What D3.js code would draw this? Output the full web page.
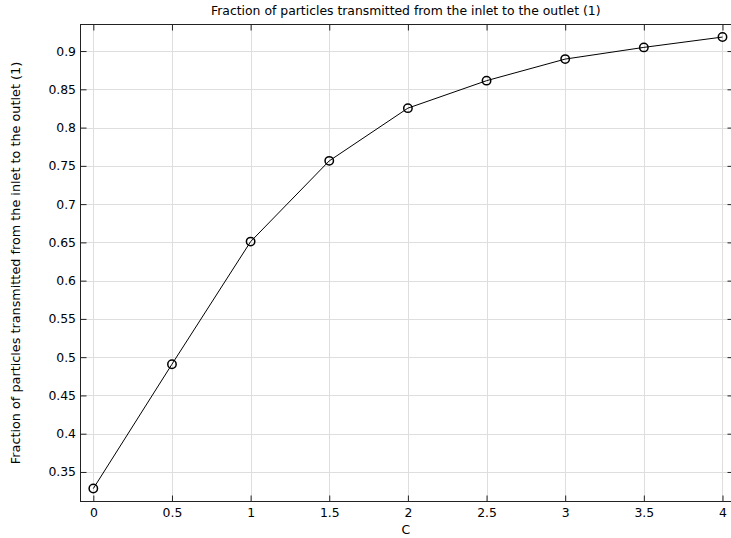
<!DOCTYPE html>
<html>
<head>
<meta charset="utf-8">
<script src="https://cdn.jsdelivr.net/npm/d3@7"></script>
<style>
  body { margin: 0; background: #fff; }
  svg text { font-family: "DejaVu Sans", sans-serif; font-size: 12.4px; fill: #000; }
  .grid line { stroke: #dedede; stroke-width: 1; }
  .frame { fill: none; stroke: #222; stroke-width: 1; }
</style>
</head>
<body>
<svg id="plot" width="731" height="538"></svg>
<script>
// data
const c_values = [0, 0.5, 1, 1.5, 2, 2.5, 3, 3.5, 4];
const fraction_values = [0.3283, 0.4908, 0.651, 0.7565, 0.8254, 0.8613, 0.8895, 0.9048, 0.9183];
const x_ticks = [0, 0.5, 1, 1.5, 2, 2.5, 3, 3.5, 4];
const y_ticks = [0.35, 0.4, 0.45, 0.5, 0.55, 0.6, 0.65, 0.7, 0.75, 0.8, 0.85, 0.9];
const title_text = "Fraction of particles transmitted from the inlet to the outlet (1)";
const x_label = "C";

const svg = d3.select("#plot");

// plot box
const box_left = 80.5, box_right = 733.5, box_top = 24.5, box_bottom = 501.5;

const x = d3.scaleLinear().domain([-0.0815, 4.07]).range([box_left, box_right]);
const y = d3.scaleLinear().domain([0.3114, 0.9347]).range([box_bottom, box_top]);

// grid
const grid = svg.append("g").attr("class", "grid");
grid.selectAll(".vx").data(x_ticks).enter().append("line")
    .attr("x1", d => Math.round(x(d)) + 0.5).attr("x2", d => Math.round(x(d)) + 0.5)
    .attr("y1", box_top).attr("y2", box_bottom);
grid.selectAll(".hy").data(y_ticks).enter().append("line")
    .attr("y1", d => Math.round(y(d)) + 0.5).attr("y2", d => Math.round(y(d)) + 0.5)
    .attr("x1", box_left).attr("x2", box_right);

// axes with inward ticks
const tick_len = 6;
const fmt = d => String(d);

const ax_bottom = svg.append("g")
    .attr("transform", "translate(0," + box_bottom + ")")
    .call(d3.axisBottom(x).tickValues(x_ticks).tickFormat(fmt).tickSizeInner(-tick_len).tickSizeOuter(0).tickPadding(6.5));
const ax_top = svg.append("g")
    .attr("transform", "translate(0," + box_top + ")")
    .call(d3.axisTop(x).tickValues(x_ticks).tickFormat("").tickSizeInner(-tick_len).tickSizeOuter(0));
const ax_left = svg.append("g")
    .attr("transform", "translate(" + box_left + ",0)")
    .call(d3.axisLeft(y).tickValues(y_ticks).tickFormat(fmt).tickSizeInner(-tick_len).tickSizeOuter(0).tickPadding(4.5));
const ax_right = svg.append("g")
    .attr("transform", "translate(" + box_right + ",0)")
    .call(d3.axisRight(y).tickValues(y_ticks).tickFormat("").tickSizeInner(-tick_len).tickSizeOuter(0));

[ax_bottom, ax_top, ax_left, ax_right].forEach(a => {
    a.select(".domain").remove();
    a.selectAll("line").attr("stroke", "#222");
    a.selectAll("text").attr("font-family", null).attr("font-size", null);
});

svg.append("rect").attr("class", "frame")
    .attr("x", box_left).attr("y", box_top)
    .attr("width", box_right - box_left).attr("height", box_bottom - box_top);

// the curve
const pts = c_values.map((c, i) => [c, fraction_values[i]]);
svg.append("path")
    .datum(pts)
    .attr("fill", "none")
    .attr("stroke", "#000")
    .attr("stroke-width", 1)
    .attr("d", d3.line().x(d => x(d[0])).y(d => y(d[1])));

svg.selectAll("circle.pt").data(pts).enter().append("circle")
    .attr("class", "pt")
    .attr("cx", d => x(d[0])).attr("cy", d => y(d[1]))
    .attr("r", 4.2)
    .attr("fill", "none")
    .attr("stroke", "#000")
    .attr("stroke-width", 1.5);

// texts
svg.append("text")
    .attr("x", (box_left + 731) / 2).attr("y", 15)
    .attr("text-anchor", "middle")
    .text(title_text);

svg.append("text")
    .attr("x", (box_left + 731) / 2).attr("y", 534)
    .attr("text-anchor", "middle")
    .text(x_label);

svg.append("text")
    .attr("transform", "translate(19.5," + ((box_top + box_bottom) / 2) + ") rotate(-90)")
    .attr("text-anchor", "middle")
    .style("font-size", "12.8px")
    .text(title_text);
</script>
</body>
</html>
